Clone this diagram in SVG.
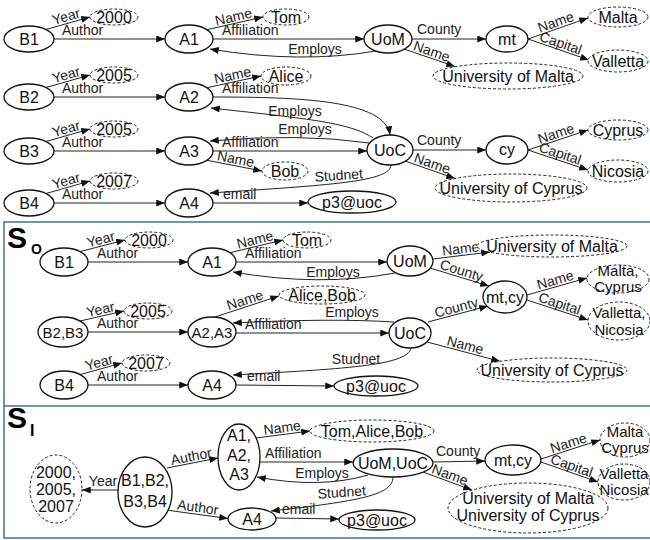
<svg xmlns="http://www.w3.org/2000/svg" width="650" height="540" viewBox="0 0 650 540">
<style>
.n{fill:#fff;stroke:#111;stroke-width:1.3}
.d{fill:#fff;stroke:#222;stroke-width:1;stroke-dasharray:3 2}
.e{fill:none;stroke:#222;stroke-width:1;marker-end:url(#ah)}
.t{font-family:"Liberation Sans",Arial,sans-serif;font-size:16px;fill:#111;text-anchor:middle}
.s{font-size:15px}
.l{font-family:"Liberation Sans",Arial,sans-serif;font-size:14px;fill:#222}
.m{text-anchor:middle}
.b{fill:none;stroke:#41719c;stroke-width:1.5}
.h{font-family:"Liberation Sans",Arial,sans-serif;font-weight:bold;fill:#000}
</style>
<defs>
<marker id="ah" viewBox="0 0 10 8" refX="10" refY="4" markerWidth="9" markerHeight="7" orient="auto" markerUnits="userSpaceOnUse"><path d="M0,0L10,4L0,8z" fill="#111"/></marker>
</defs>
<rect width="650" height="540" fill="#fff"/>
<g id="frames">
<path class="b" d="M650,222H4V538H650M4,406H650"/>
<text class="h" x="7" y="248" font-size="30">S</text><text class="h" x="31" y="254" font-size="14">O</text>
<text class="h" x="7" y="428" font-size="30">S</text><text class="h" x="30" y="436" font-size="16" font-weight="normal">I</text>
</g>
<g id="connectors">
<path class="e" d="M46,29.5L90,17"/><text class="l m" transform="translate(68,23) rotate(-16)" y="-2">Year</text>
<path class="e" d="M54,39H165"/><text class="l" x="62" y="35">Author</text>
<path class="e" d="M207,29.7L263,17"/><text class="l m" transform="translate(235,23.4) rotate(-13)" y="-2">Name</text>
<path class="e" d="M213,39H364"/><text class="l" x="222" y="35">Affiliation</text>
<path class="e" d="M376,51Q300,64 210,49"/><text class="l m" x="315" y="54">Employs</text>
<path class="e" d="M412,39H486"/><text class="l" x="417" y="34">County</text>
<path class="e" d="M528,39L588,18"/><text class="l m" transform="translate(558,28.5) rotate(-19.3)" y="-2">Name</text>
<path class="e" d="M528,39L589,60"/><text class="l m" transform="translate(558.5,49.5) rotate(19)" y="-2">Capital</text>
<path class="e" d="M404,49L455,66.5"/><text class="l m" transform="translate(429.5,57.8) rotate(19)" y="-2">Name</text>

<path class="e" d="M46,87.5L90,75"/><text class="l m" transform="translate(68,81.2) rotate(-15.8)" y="-2">Year</text>
<path class="e" d="M54,97H165"/><text class="l" x="62" y="93">Author</text>
<path class="e" d="M207,87.7L261,76"/><text class="l m" transform="translate(234,81.8) rotate(-12.2)" y="-2">Name</text>
<path class="e" d="M213,97C300,97 385,100 390,135"/><text class="l" x="222" y="93">Affiliation</text>
<path class="e" d="M373,138C350,122 300,118 211,108"/><text class="l m" x="295" y="116">Employs</text>
<path class="e" d="M369,143Q300,133 210,141"/><text class="l m" x="305" y="134">Employs</text>

<path class="e" d="M46,141.5L90,129"/><text class="l m" transform="translate(68,135.2) rotate(-15.8)" y="-2">Year</text>
<path class="e" d="M54,151H165"/><text class="l" x="62" y="147">Author</text>
<path class="e" d="M213,151H367"/><text class="l" x="222" y="147">Affiliation</text>
<path class="e" d="M207,160.3L262,171"/><text class="l m" transform="translate(234.5,165.6) rotate(11)" y="-2">Name</text>
<path class="e" d="M413,150H486"/><text class="l" x="417" y="145">County</text>
<path class="e" d="M528,150L588,130"/><text class="l m" transform="translate(558,140) rotate(-18.4)" y="-2">Name</text>
<path class="e" d="M528,150L588,170"/><text class="l m" transform="translate(558,160) rotate(18.4)" y="-2">Capital</text>
<path class="e" d="M405,161L455,178.5"/><text class="l m" transform="translate(430,169.8) rotate(19.3)" y="-2">Name</text>

<path class="e" d="M46,193.5L90,181"/><text class="l m" transform="translate(68,187.2) rotate(-15.8)" y="-2">Year</text>
<path class="e" d="M54,203H165"/><text class="l" x="62" y="199">Author</text>
<path class="e" d="M213,203H308"/><text class="l" x="223" y="199">email</text>
<path class="e" d="M391,165C390,182 330,185 210,193"/><text class="l m" transform="translate(339,180) rotate(-4)">Studnet</text>

<path class="e" d="M80,251.6L125,240"/><text class="l m" transform="translate(102.5,245.8) rotate(-14.5)" y="-2">Year</text>
<path class="e" d="M88,262H188"/><text class="l" x="97" y="258">Author</text>
<path class="e" d="M230,252.7L283,240"/><text class="l m" transform="translate(256.5,246.3) rotate(-13.5)" y="-2">Name</text>
<path class="e" d="M236,262H387"/><text class="l" x="245" y="258">Affiliation</text>
<path class="e" d="M395,273Q320,287 233,272"/><text class="l m" x="333" y="277">Employs</text>
<path class="e" d="M433,259L490,252"/><text class="l m" transform="translate(461.5,255.5) rotate(-7)" y="-2">Name</text>
<path class="e" d="M430,268L489,286"/><text class="l m" transform="translate(459.5,277) rotate(17)" y="-2">County</text>
<path class="e" d="M428,322L488,306"/><text class="l m" transform="translate(458,314) rotate(-15)" y="-2">County</text>
<path class="e" d="M527,295L587,278"/><text class="l m" transform="translate(557,286.5) rotate(-15.8)" y="-2">Name</text>
<path class="e" d="M527,300L588,320"/><text class="l m" transform="translate(557.5,310) rotate(18.2)" y="-2">Capital</text>
<path class="e" d="M80,321L124,311"/><text class="l m" transform="translate(102,316) rotate(-12.8)" y="-2">Year</text>
<path class="e" d="M88,332H188"/><text class="l" x="97" y="328">Author</text>
<path class="e" d="M215,317L279,296"/><text class="l m" transform="translate(247,306.5) rotate(-18)" y="-2">Name</text>
<path class="e" d="M394,322Q330,318 233,323"/><text class="l m" x="352" y="317">Employs</text>
<path class="e" d="M236,333H389"/><text class="l" x="245" y="329">Affiliation</text>
<path class="e" d="M427,342L500,361.3"/><text class="l m" transform="translate(463.5,351.6) rotate(14.8)" y="-2">Name</text>
<path class="e" d="M80,374.6L122,363"/><text class="l m" transform="translate(101,368.8) rotate(-15.4)" y="-2">Year</text>
<path class="e" d="M88,385H188"/><text class="l" x="97" y="381">Author</text>
<path class="e" d="M236,385L334,386"/><text class="l" x="247" y="381">email</text>
<path class="e" d="M411,348C408,366 340,369 233,375"/><text class="l m" x="356" y="364">Studnet</text>

<path class="e" d="M118,490H82"/><text class="l m" x="103" y="486">Year</text>
<path class="e" d="M167,468L218,458"/><text class="l m" transform="translate(192.5,463) rotate(-11)" y="-2">Author</text>
<path class="e" d="M166,510L228,518.5"/><text class="l m" transform="translate(197,514) rotate(7.8)" y="-2">Author</text>
<path class="e" d="M256,438L310,431"/><text class="l m" transform="translate(283,434.5) rotate(-7.4)" y="-2">Name</text>
<path class="e" d="M260,462H353"/><text class="l" x="265" y="458">Affiliation</text>
<path class="e" d="M368,475Q320,489 257,477"/><text class="l m" x="322" y="478">Employs</text>
<path class="e" d="M393,477C393,495 360,501 271,511"/><text class="l m" transform="translate(342,497) rotate(-4)">Studnet</text>
<path class="e" d="M276,518L339,519"/><text class="l" x="282" y="514">email</text>
<path class="e" d="M433,462L485,461"/><text class="l" x="436" y="456">County</text>
<path class="e" d="M423,472L472,490"/><text class="l m" transform="translate(447.5,481) rotate(20.2)" y="-2">Name</text>
<path class="e" d="M541,459L600,440"/><text class="l m" transform="translate(570.5,449.5) rotate(-17.8)" y="-2">Name</text>
<path class="e" d="M541,462L598,482"/><text class="l m" transform="translate(569.5,472) rotate(19.3)" y="-2">Capital</text>
</g>

<g id="top-B1"><ellipse class="n" cx="29" cy="39" rx="25" ry="13"/><text class="t" x="29" y="45">B1</text></g>
<g id="top-2000"><ellipse class="d" cx="114" cy="17" rx="24" ry="8"/><text class="t" x="114" y="23">2000</text></g>
<g id="top-A1"><ellipse class="n" cx="189" cy="39" rx="24" ry="14"/><text class="t" x="189" y="45">A1</text></g>
<g id="top-Tom"><ellipse class="d" cx="286" cy="17" rx="23" ry="8"/><text class="t" x="286" y="23">Tom</text></g>
<g id="top-UoM"><ellipse class="n" cx="388" cy="39" rx="24" ry="14"/><text class="t" x="388" y="45">UoM</text></g>
<g id="top-mt"><ellipse class="n" cx="507" cy="39" rx="21" ry="13"/><text class="t" x="507" y="45">mt</text></g>
<g id="top-Malta"><ellipse class="d" cx="618" cy="17" rx="30" ry="10"/><text class="t" x="618" y="23">Malta</text></g>
<g id="top-Valletta"><ellipse class="d" cx="618" cy="61" rx="30" ry="11"/><text class="t" x="618" y="67">Valletta</text></g>
<g id="top-UofM"><ellipse class="d" cx="508" cy="76" rx="75" ry="13"/><text class="t" x="508" y="82" font-size="17">University of Malta</text></g>
<g id="top-B2"><ellipse class="n" cx="29" cy="97" rx="25" ry="13"/><text class="t" x="29" y="103">B2</text></g>
<g id="top-2005a"><ellipse class="d" cx="114" cy="75" rx="24" ry="8"/><text class="t" x="114" y="81">2005</text></g>
<g id="top-A2"><ellipse class="n" cx="189" cy="97" rx="24" ry="14"/><text class="t" x="189" y="103">A2</text></g>
<g id="top-Alice"><ellipse class="d" cx="286" cy="76" rx="25" ry="9"/><text class="t" x="286" y="82">Alice</text></g>
<g id="top-B3"><ellipse class="n" cx="29" cy="151" rx="25" ry="13"/><text class="t" x="29" y="157">B3</text></g>
<g id="top-2005b"><ellipse class="d" cx="114" cy="129" rx="24" ry="8"/><text class="t" x="114" y="135">2005</text></g>
<g id="top-A3"><ellipse class="n" cx="189" cy="151" rx="24" ry="14"/><text class="t" x="189" y="157">A3</text></g>
<g id="top-Bob"><ellipse class="d" cx="285" cy="171" rx="23" ry="9"/><text class="t" x="285" y="177">Bob</text></g>
<g id="top-UoC"><ellipse class="n" cx="390" cy="150" rx="23" ry="15"/><text class="t" x="390" y="156">UoC</text></g>
<g id="top-cy"><ellipse class="n" cx="507" cy="150" rx="21" ry="14"/><text class="t" x="507" y="155">cy</text></g>
<g id="top-Cyprus"><ellipse class="d" cx="618" cy="130" rx="30" ry="10"/><text class="t" x="618" y="136">Cyprus</text></g>
<g id="top-Nicosia"><ellipse class="d" cx="618" cy="171" rx="30" ry="11"/><text class="t" x="618" y="177">Nicosia</text></g>
<g id="top-UofC"><ellipse class="d" cx="511" cy="188" rx="76" ry="14"/><text class="t" x="511" y="194" font-size="17">University of Cyprus</text></g>
<g id="top-B4"><ellipse class="n" cx="29" cy="203" rx="25" ry="13"/><text class="t" x="29" y="209">B4</text></g>
<g id="top-2007"><ellipse class="d" cx="114" cy="181" rx="24" ry="8"/><text class="t" x="114" y="187">2007</text></g>
<g id="top-A4"><ellipse class="n" cx="189" cy="203" rx="24" ry="14"/><text class="t" x="189" y="209">A4</text></g>
<g id="top-p3"><ellipse class="n" cx="352" cy="202" rx="44" ry="11"/><text class="t" x="352" y="208" font-size="17">p3@uoc</text></g>

<g id="so-B1"><ellipse class="n" cx="64" cy="262" rx="24" ry="14"/><text class="t" x="64" y="268">B1</text></g>
<g id="so-2000"><ellipse class="d" cx="149" cy="240" rx="24" ry="8"/><text class="t" x="149" y="246">2000</text></g>
<g id="so-A1"><ellipse class="n" cx="212" cy="262" rx="24" ry="14"/><text class="t" x="212" y="268">A1</text></g>
<g id="so-Tom"><ellipse class="d" cx="307" cy="240" rx="24" ry="8"/><text class="t" x="307" y="246">Tom</text></g>
<g id="so-UoM"><ellipse class="n" cx="410" cy="261" rx="23" ry="15"/><text class="t" x="410" y="267">UoM</text></g>
<g id="so-UofM"><ellipse class="d" cx="552" cy="246" rx="75" ry="11"/><text class="t" x="552" y="252" font-size="17">University of Malta</text></g>
<g id="so-mtcy"><ellipse class="n" cx="505" cy="297" rx="22" ry="16"/><text class="t" x="505" y="303">mt,cy</text></g>
<g id="so-MaltaCyprus"><ellipse class="d" cx="618" cy="279" rx="31" ry="14"/><text class="t s" x="618" y="276">Malta,</text><text class="t s" x="618" y="292">Cyprus</text></g>
<g id="so-VallettaNicosia"><ellipse class="d" cx="619" cy="321" rx="31" ry="19"/><text class="t s" x="619" y="318">Valletta,</text><text class="t s" x="619" y="335">Nicosia</text></g>
<g id="so-B2B3"><ellipse class="n" cx="63" cy="332" rx="25" ry="15"/><text class="t s" x="63" y="338">B2,B3</text></g>
<g id="so-2005"><ellipse class="d" cx="148" cy="311" rx="24" ry="8"/><text class="t" x="148" y="317">2005</text></g>
<g id="so-A2A3"><ellipse class="n" cx="212" cy="332" rx="24" ry="15"/><text class="t s" x="212" y="338">A2,A3</text></g>
<g id="so-AliceBob"><ellipse class="d" cx="322" cy="295" rx="43" ry="9"/><text class="t" x="322" y="300.5">Alice,Bob</text></g>
<g id="so-UoC"><ellipse class="n" cx="410" cy="333" rx="21" ry="15"/><text class="t" x="410" y="339">UoC</text></g>
<g id="so-UofC"><ellipse class="d" cx="552" cy="370" rx="75" ry="12"/><text class="t" x="552" y="376" font-size="17">University of Cyprus</text></g>
<g id="so-B4"><ellipse class="n" cx="64" cy="385" rx="24" ry="14"/><text class="t" x="64" y="391">B4</text></g>
<g id="so-2007"><ellipse class="d" cx="146" cy="363" rx="24" ry="8"/><text class="t" x="146" y="369">2007</text></g>
<g id="so-A4"><ellipse class="n" cx="212" cy="385" rx="24" ry="14"/><text class="t" x="212" y="391">A4</text></g>
<g id="so-p3"><ellipse class="n" cx="376" cy="386" rx="42" ry="10"/><text class="t" x="376" y="392" font-size="17">p3@uoc</text></g>

<g id="si-years"><ellipse class="d" cx="56" cy="489" rx="26" ry="34"/><text class="t" x="56" y="478">2000,</text><text class="t" x="56" y="495">2005,</text><text class="t" x="56" y="512">2007</text></g>
<g id="si-B"><ellipse class="n" cx="145" cy="492" rx="27" ry="35"/><text class="t" x="145" y="486">B1,B2,</text><text class="t" x="145" y="507">B3,B4</text></g>
<g id="si-A"><ellipse class="n" cx="239" cy="457" rx="21" ry="33"/><text class="t" x="239" y="441">A1,</text><text class="t" x="239" y="461">A2,</text><text class="t" x="239" y="480">A3</text></g>
<g id="si-A4"><ellipse class="n" cx="252" cy="519" rx="24" ry="11"/><text class="t" x="252" y="525">A4</text></g>
<g id="si-TAB"><ellipse class="d" cx="372" cy="431" rx="62" ry="11"/><text class="t" x="372" y="437">Tom,Alice,Bob</text></g>
<g id="si-UoMUoC"><ellipse class="n" cx="393" cy="463" rx="40" ry="14"/><text class="t" x="393" y="469">UoM,UoC</text></g>
<g id="si-p3"><ellipse class="n" cx="377" cy="520" rx="38" ry="10"/><text class="t" x="377" y="526" font-size="17">p3@uoc</text></g>
<g id="si-mtcy"><ellipse class="n" cx="513" cy="460" rx="28" ry="15"/><text class="t" x="513" y="466">mt,cy</text></g>
<g id="si-Univ"><ellipse class="d" cx="528" cy="508" rx="80" ry="25"/><text class="t" x="528" y="504" font-size="17">University of Malta</text><text class="t" x="528" y="521" font-size="17">University of Cyprus</text></g>
<g id="si-MC"><ellipse class="d" cx="625" cy="440" rx="25" ry="17"/><text class="t s" x="625" y="437">Malta</text><text class="t s" x="625" y="453">Cyprus</text></g>
<g id="si-VN"><ellipse class="d" cx="624" cy="482" rx="26" ry="18"/><text class="t s" x="624" y="479">Valletta</text><text class="t s" x="624" y="495">Nicosia</text></g>
</svg>
